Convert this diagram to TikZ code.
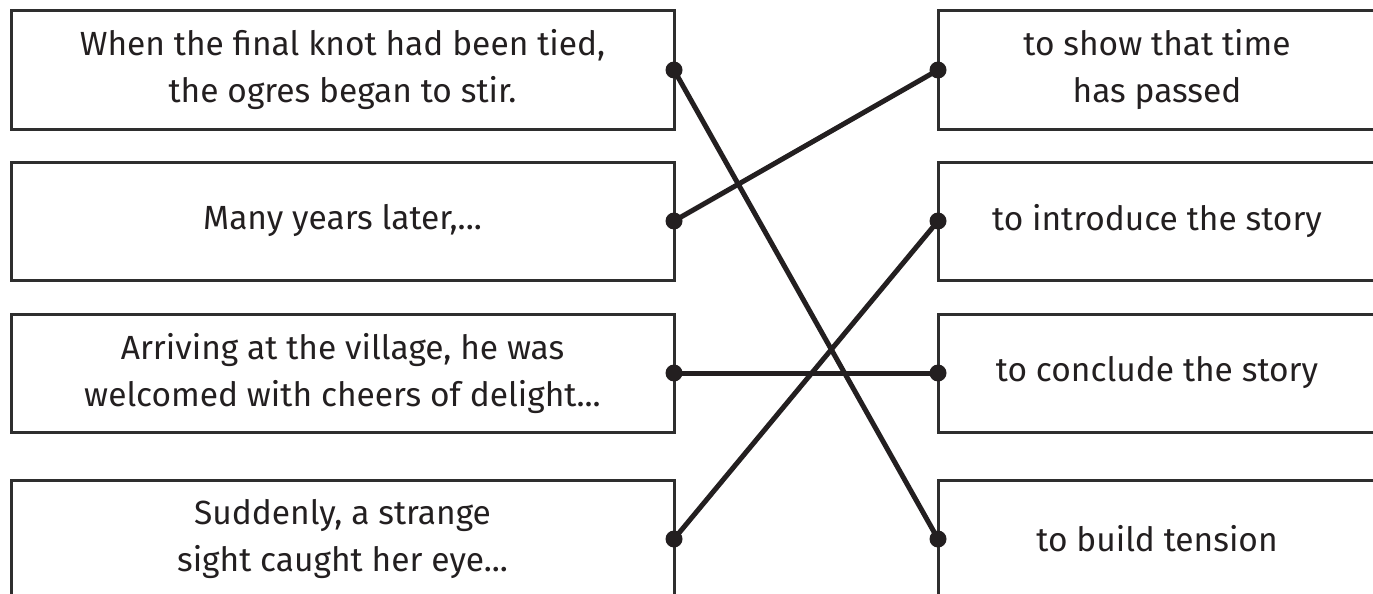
\documentclass[tikz,border=0pt]{standalone}
\usepackage{fontspec}
\setmainfont{Fira Sans}
\definecolor{boxline}{HTML}{2E2E2E}
\definecolor{ink}{HTML}{231F20}
\tikzset{
  cardbox/.style={draw=boxline, line width=3pt, rectangle, outer sep=0pt, inner sep=0pt,
    minimum height=118pt, align=center, text=ink, font=\fontsize{33.5}{47}\selectfont},
  leftcard/.style={cardbox, minimum width=663pt},
  rightcard/.style={cardbox, minimum width=438pt},
  link/.style={draw=ink, line width=5pt},
  dot/.style={fill=ink}
}
\begin{document}
\begin{tikzpicture}[x=1pt,y=-1pt]
\useasboundingbox (0,0) rectangle (1373,594);
\clip (0,0) rectangle (1373,594);
\node[leftcard] (L1) at (342.5,70) {When the final knot had been tied,\\the ogres began to stir.};
\node[leftcard] (L2) at (342.5,221) {Many years later,...};
\node[leftcard] (L3) at (342.5,373) {Arriving at the village, he was\\welcomed with cheers of delight...};
\node[leftcard] (L4) at (342.5,539) {Suddenly, a strange\\sight caught her eye...};
\node[rightcard] (R1) at (1157,70) {to show that time\\has passed};
\node[rightcard] (R2) at (1157,221) {to introduce the story};
\node[rightcard] (R3) at (1157,373) {to conclude the story};
\node[rightcard] (R4) at (1157,539) {to build tension};
\draw[link] (L1.east) -- (R4.west);
\draw[link] (L2.east) -- (R1.west);
\draw[link] (L3.east) -- (R3.west);
\draw[link] (L4.east) -- (R2.west);
\foreach \n in {L1,L2,L3,L4}{\fill[dot] (\n.east) circle (8.5pt);}
\foreach \n in {R1,R2,R3,R4}{\fill[dot] (\n.west) circle (8.5pt);}
\end{tikzpicture}
\end{document}
